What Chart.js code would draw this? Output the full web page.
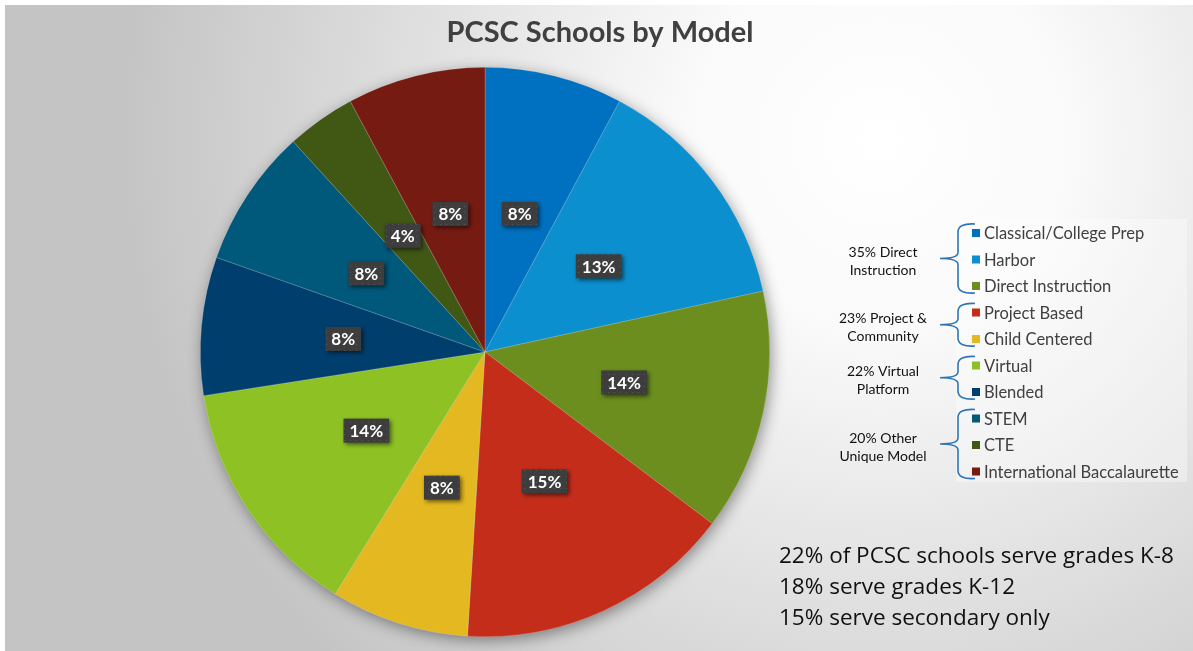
<!DOCTYPE html>
<html>
<head>
<meta charset="utf-8">
<script src="https://cdn.jsdelivr.net/npm/chart.js@4.4.0/dist/chart.umd.min.js"></script>
<style>
  html, body { margin: 0; padding: 0; background: #fff; }
  canvas { display: block; }
</style>
</head>
<body>
<canvas id="pcsc" width="1193" height="651"></canvas>
<script>
// school models (legend order = slice order, clockwise from 12 o'clock)
const models = ['Classical/College Prep', 'Harbor', 'Direct Instruction', 'Project Based', 'Child Centered',
  'Virtual', 'Blended', 'STEM', 'CTE', 'International Baccalaurette'];
// number of schools per model (51 total)
const schoolCounts = [4, 7, 7, 8, 4, 7, 4, 4, 2, 4];
// percent labels as printed on the slices
const pctLabels = ['8%', '13%', '14%', '15%', '8%', '14%', '8%', '8%', '4%', '8%'];
const sliceColors = ['#0070C0', '#0B8FCE', '#6B8E1F', '#C52D1B', '#E4B820',
  '#8DC124', '#003E6E', '#00587B', '#405814', '#761B12'];

// brace groups for the legend
const groupNames = [['35% Direct', 'Instruction'], ['23% Project &', 'Community'],
  ['22% Virtual', 'Platform'], ['20% Other', 'Unique Model']];
const groupMembers = [[0, 1, 2], [3, 4], [5, 6], [7, 8, 9]];

const notes = ['22% of PCSC schools serve grades K-8', '18% serve grades K-12', '15% serve secondary only'];
const chartTitle = 'PCSC Schools by Model';

// dotted fill for the value boxes
const dotCanvas = document.createElement('canvas');
dotCanvas.width = 6; dotCanvas.height = 6;
const dctx = dotCanvas.getContext('2d');
dctx.fillStyle = '#3d3d3d';
dctx.fillRect(0, 0, 6, 6);
dctx.fillStyle = '#575757';
dctx.fillRect(2, 2, 1, 1);

const backdrop = {
  id: 'backdrop',
  beforeDraw(chart) {
    const ctx = chart.ctx;
    ctx.save();
    ctx.fillStyle = '#fff';
    ctx.fillRect(0, 0, chart.width, chart.height);
    const g = ctx.createRadialGradient(880, 140, 0, 880, 140, 760);
    g.addColorStop(0, '#ffffff');
    g.addColorStop(0.25, '#fafafa');
    g.addColorStop(1, '#c4c4c4');
    ctx.fillStyle = g;
    ctx.fillRect(5, 5, chart.width - 5, chart.height - 5);
    // faint panel behind legend
    ctx.fillStyle = 'rgba(255,255,255,0.35)';
    ctx.fillRect(956, 219, 231, 263);
    ctx.restore();
  },
  beforeDatasetsDraw(chart) {
    // soft shadow under the pie
    const arc = chart.getDatasetMeta(0).data[0];
    const ctx = chart.ctx;
    ctx.save();
    ctx.shadowColor = 'rgba(0,0,0,0.45)';
    ctx.shadowBlur = 16;
    ctx.shadowOffsetX = 2;
    ctx.shadowOffsetY = 4;
    ctx.fillStyle = '#888';
    ctx.beginPath();
    ctx.arc(arc.x, arc.y, arc.outerRadius - 1, 0, Math.PI * 2);
    ctx.fill();
    ctx.restore();
  },
  afterDatasetsDraw(chart) {
    const ctx = chart.ctx;
    const meta = chart.getDatasetMeta(0);
    const pat = ctx.createPattern(dotCanvas, 'repeat');
    ctx.save();
    ctx.font = 'bold 17px Lato';
    ctx.textAlign = 'center';
    ctx.textBaseline = 'middle';
    meta.data.forEach((arc, i) => {
      const p = arc.getCenterPoint();
      const txt = pctLabels[i];
      const w = ctx.measureText(txt).width + 12;
      const h = 24;
      ctx.save();
      ctx.shadowColor = 'rgba(0,0,0,0.55)';
      ctx.shadowBlur = 4;
      ctx.shadowOffsetX = 2;
      ctx.shadowOffsetY = 2;
      ctx.fillStyle = pat;
      ctx.fillRect(p.x - w / 2, p.y - h / 2, w, h);
      ctx.restore();
      ctx.fillStyle = '#fff';
      ctx.fillText(txt, p.x, p.y + 1);
    });
    ctx.restore();
  },
  afterDraw(chart) {
    const ctx = chart.ctx;
    const colors = chart.data.datasets[0].backgroundColor;
    ctx.save();
    // title
    ctx.fillStyle = '#404040';
    ctx.font = 'bold 29px Lato';
    ctx.textAlign = 'center';
    ctx.textBaseline = 'middle';
    ctx.fillText(chartTitle, 600, 33);

    // legend rows
    const rowY = i => 233 + i * 26.5;
    ctx.textAlign = 'left';
    ctx.font = '16.5px Lato';
    chart.data.labels.forEach((lab, i) => {
      const y = rowY(i);
      ctx.fillStyle = colors[i];
      ctx.fillRect(972, y - 4, 8, 8);
      ctx.fillStyle = '#404040';
      ctx.fillText(lab, 984, y + 1);
    });

    // braces + group names
    ctx.strokeStyle = '#2E75B6';
    ctx.lineWidth = 1.6;
    groupMembers.forEach((idx, g) => {
      const top = rowY(idx[0]) - 9;
      const bot = rowY(idx[idx.length - 1]) + 7;
      const mid = (top + bot) / 2;
      const xv = 958, xr = 975, xt = 940;
      ctx.beginPath();
      ctx.moveTo(xr, top);
      ctx.quadraticCurveTo(xv, top - 1, xv, top + 8);
      ctx.lineTo(xv, mid - 6);
      ctx.quadraticCurveTo(xv, mid, xt, mid);
      ctx.quadraticCurveTo(xv, mid, xv, mid + 6);
      ctx.lineTo(xv, bot - 8);
      ctx.quadraticCurveTo(xv, bot + 1, xr, bot);
      ctx.stroke();

      ctx.fillStyle = '#111';
      ctx.font = '14px Lato';
      ctx.textAlign = 'center';
      const rowsMid = (rowY(idx[0]) + rowY(idx[idx.length - 1])) / 2 + 2;
      ctx.fillText(groupNames[g][0], 883, rowsMid - 9);
      ctx.fillText(groupNames[g][1], 883, rowsMid + 9);
      ctx.textAlign = 'left';
      ctx.font = '16.5px Lato';
    });

    // notes bottom right
    ctx.fillStyle = '#111';
    ctx.font = '22.5px "Open Sans"';
    ctx.textAlign = 'left';
    notes.forEach((t, i) => ctx.fillText(t, 779, 557 + i * 31));
    ctx.restore();
  }
};

new Chart(document.getElementById('pcsc'), {
  type: 'pie',
  data: {
    labels: models,
    datasets: [{
      data: schoolCounts,
      backgroundColor: sliceColors,
      borderColor: 'rgba(255,255,255,0.3)',
      borderWidth: 0.6
    }]
  },
  options: {
    responsive: false,
    animation: false,
    layout: { padding: { left: 200, right: 423, top: 67, bottom: 14 } },
    plugins: {
      legend: { display: false },
      tooltip: { enabled: false },
      title: { display: false }
    }
  },
  plugins: [backdrop]
});
</script>
</body>
</html>
